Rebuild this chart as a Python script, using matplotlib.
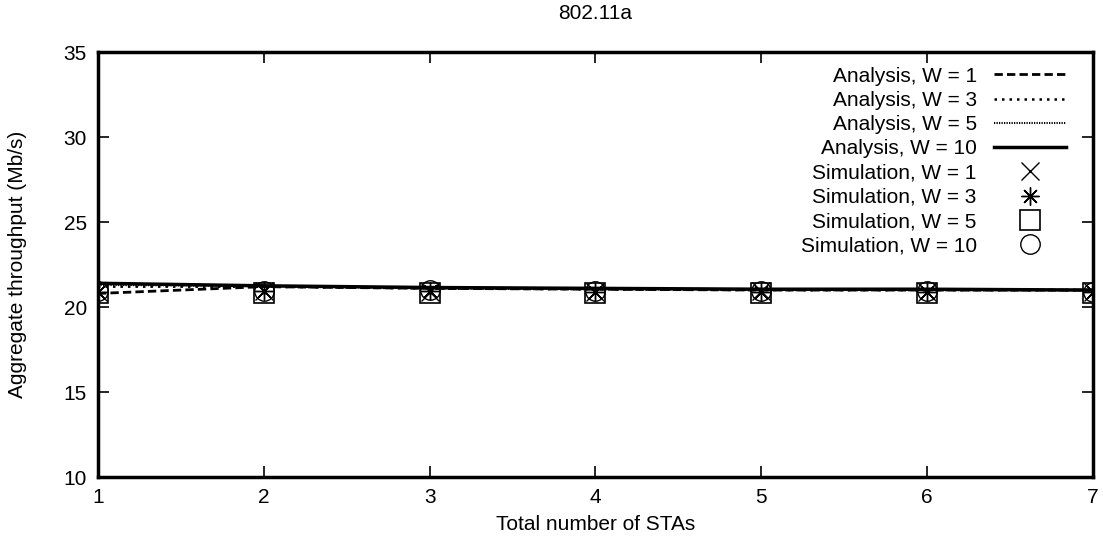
import matplotlib
matplotlib.use('Agg')
import matplotlib.pyplot as plt

plt.rcParams['font.family'] = ['Liberation Sans', 'DejaVu Sans']

stas = [1, 2, 3, 4, 5, 6, 7]

ana_w1 = [20.8, 21.2, 21.1, 21.05, 21.0, 21.0, 21.0]
ana_w3 = [21.2, 21.2, 21.1, 21.05, 21.0, 21.0, 21.0]
ana_w5 = [21.3, 21.25, 21.1, 21.05, 21.05, 21.0, 21.0]
ana_w10 = [21.4, 21.25, 21.15, 21.1, 21.05, 21.05, 21.0]

sim_w1 = [20.9, 20.95, 20.9, 20.9, 20.95, 20.9, 20.9]
sim_w3 = [20.9, 20.95, 20.95, 20.9, 20.9, 20.9, 20.9]
sim_w5 = [20.85, 20.8, 20.8, 20.8, 20.85, 20.85, 20.85]
sim_w10 = [20.95, 20.95, 21.0, 20.95, 20.95, 20.95, 20.9]

fig = plt.figure(figsize=(11.03, 5.43), dpi=100)
ax = fig.add_axes([0.0888, 0.1215, 0.902, 0.7825])

ax.plot(stas, ana_w1, color='black', lw=2, ls=(0, (3, 1.5)), label='Analysis, W = 1')
ax.plot(stas, ana_w3, color='black', lw=1.8, ls=(0, (1, 2)), label='Analysis, W = 3')
ax.plot(stas, ana_w5, color='black', lw=1.5, ls=(0, (0.6, 0.6)), label='Analysis, W = 5')
ax.plot(stas, ana_w10, color='black', lw=2.5, ls='-', label='Analysis, W = 10')

ax.plot(stas, sim_w1, ls='none', marker='x', ms=13, mew=1, color='black', label='Simulation, W = 1')
ax.plot(stas, sim_w3, ls='none', marker=(8, 2, 0), ms=13, mew=1, color='black', label='Simulation, W = 3')
ax.plot(stas, sim_w5, ls='none', marker='s', ms=14, mew=1.2, mfc='none', mec='black', label='Simulation, W = 5')
ax.plot(stas, sim_w5, ls='none', marker='.', ms=2, color='black')
ax.plot(stas, sim_w10, ls='none', marker='o', ms=14, mew=1, mfc='none', mec='black', label='Simulation, W = 10')

ax.set_xlim(1, 7)
ax.set_ylim(10, 35)
ax.set_xticks(stas)
ax.set_yticks([10, 15, 20, 25, 30, 35])
ax.tick_params(direction='in', length=8, width=1.2, top=True, right=True, labelsize=15, pad=8)
for s in ax.spines.values():
    s.set_linewidth(2.5)

ax.set_xlabel('Total number of STAs', fontsize=15, labelpad=6)
ax.set_ylabel('Aggregate throughput (Mb/s)', fontsize=15, labelpad=26)
ax.set_title('802.11a', fontsize=15, pad=24)

ax.legend(loc='upper right', bbox_to_anchor=(0.986, 0.995), frameon=False, markerfirst=False,
          fontsize=15, handlelength=3.5, labelspacing=0.25, borderaxespad=0.2,
          handletextpad=0.8)

fig.savefig('out.png', dpi=100)
